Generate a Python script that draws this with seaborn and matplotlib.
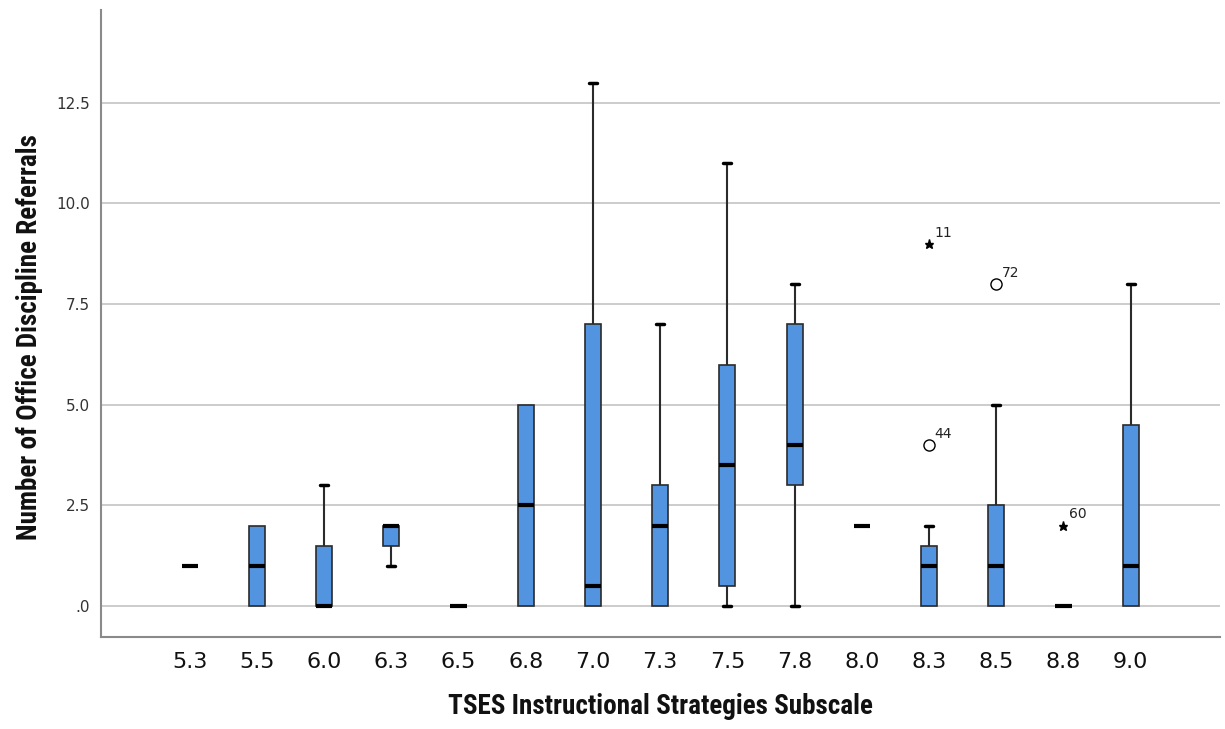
import numpy as np
import pandas as pd
import matplotlib
matplotlib.use("Agg")
import matplotlib.pyplot as plt
import seaborn as sns
from matplotlib.ticker import FuncFormatter

# TSES subscale groups (x axis)
tses_levels = ["5.3", "5.5", "6.0", "6.3", "6.5", "6.8", "7.0", "7.3",
               "7.5", "7.8", "8.0", "8.3", "8.5", "8.8", "9.0"]

# office discipline referrals per teacher, estimated from the boxes
odr_5_3 = [1]
odr_5_5 = [0, 0, 1, 2, 2]
odr_6_0 = [0, 0, 0, 0, 1, 2, 3]
odr_6_3 = [1, 2, 2]
odr_6_5 = [0, 0]
odr_6_8 = [0, 0, 5, 5]
odr_7_0 = [0, 0, 0, 0, 1, 7, 7, 13]
odr_7_3 = [0, 0, 2, 3, 7]
odr_7_5 = [0, 0, 0, 2, 3, 4, 6, 6, 8, 11]
odr_7_8 = [0, 3, 4, 7, 8]
odr_8_0 = [2, 2]
odr_8_3 = [0, 0, 0, 0, 1, 1, 1, 1, 2, 4, 9]
odr_8_5 = [0, 0, 0, 0, 1, 1, 1, 2, 3, 5, 8]
odr_8_8 = [0, 0, 0, 0, 2]
odr_9_0 = [0, 0, 0, 1, 4, 5, 8]

odr_groups = [odr_5_3, odr_5_5, odr_6_0, odr_6_3, odr_6_5, odr_6_8, odr_7_0,
              odr_7_3, odr_7_5, odr_7_8, odr_8_0, odr_8_3, odr_8_5, odr_8_8,
              odr_9_0]

# labelled outliers (case numbers)
outlier_level = ["8.3", "8.3", "8.5", "8.8"]
outlier_value = [4, 9, 8, 2]
outlier_case = ["44", "11", "72", "60"]

rows = []
for lvl, vals in zip(tses_levels, odr_groups):
    for v in vals:
        rows.append({"tses": lvl, "odr": v})
df = pd.DataFrame(rows)

sns.set_style("white")
plt.rcParams["font.family"] = ["DejaVu Sans"]
narrow = ["Roboto Condensed", "Liberation Sans Narrow", "Roboto", "DejaVu Sans"]

fig = plt.figure(figsize=(12.25, 7.29), dpi=100)
ax = fig.add_axes([0.0824, 0.126, 0.9136, 0.86])

sns.boxplot(data=df, x="tses", y="odr", order=tses_levels, ax=ax,
            color="#5394E1", saturation=1, width=0.24, showfliers=False,
            linecolor="#2b2b2b", linewidth=1.2,
            medianprops=dict(color="black", linewidth=3),
            capprops=dict(color="black", linewidth=2.5),
            whiskerprops=dict(color="#2b2b2b", linewidth=1.5))

# hide caps that sit on a zero-length whisker
box = ax.containers[0]
for whisker, cap in zip(box.whiskers, box.caps):
    y = whisker.get_ydata()
    if y[0] == y[1]:
        cap.set_visible(False)

# SPSS style outliers: circle beyond 1.5 IQR, star beyond 3 IQR
for lvl, val, case in zip(outlier_level, outlier_value, outlier_case):
    i = tses_levels.index(lvl)
    q1, q3 = np.percentile(odr_groups[i], [25, 75])
    iqr = q3 - q1
    if val > q3 + 3 * iqr:
        ax.plot(i, val, marker="*", color="black", markersize=6.5,
                linestyle="none")
    else:
        ax.plot(i, val, marker="o", markerfacecolor="none",
                markeredgecolor="black", markersize=8, markeredgewidth=1,
                linestyle="none")
    ax.annotate(case, (i, val), xytext=(4, 3), textcoords="offset points",
                fontsize=10, color="#222222", ha="left", va="bottom")

ax.set_xlim(-1.32, 15.33)
ax.set_ylim(-0.77, 14.8)
ax.set_yticks([0, 2.5, 5, 7.5, 10, 12.5])
ax.yaxis.set_major_formatter(
    FuncFormatter(lambda v, p: f"{v:.1f}".lstrip("0") if v < 1 else f"{v:.1f}"))
ax.grid(axis="y", color="#c8c8c8", linewidth=1.3)
ax.set_axisbelow(True)

for side in ["top", "right"]:
    ax.spines[side].set_visible(False)
for side in ["left", "bottom"]:
    ax.spines[side].set_color("#8a8a8a")
    ax.spines[side].set_linewidth(1.5)

ax.tick_params(axis="y", length=4, color="#c8c8c8", labelsize=11,
               labelcolor="#333333", pad=4)
ax.tick_params(axis="x", length=0, pad=11, labelsize=16, labelcolor="#111111")

ax.set_xlabel("TSES Instructional Strategies Subscale", fontsize=19.5,
              fontweight="bold", family=narrow, color="#111111")
ax.set_ylabel("Number of Office Discipline Referrals", fontsize=19.5,
              fontweight="bold", family=narrow, color="#111111")
ax.xaxis.set_label_coords(0.5, -0.11)
ax.xaxis.label.set_va("center")
ax.yaxis.set_label_coords(-0.0634, 0.478)
ax.yaxis.label.set_va("center")

fig.savefig("out.png", dpi=100)
